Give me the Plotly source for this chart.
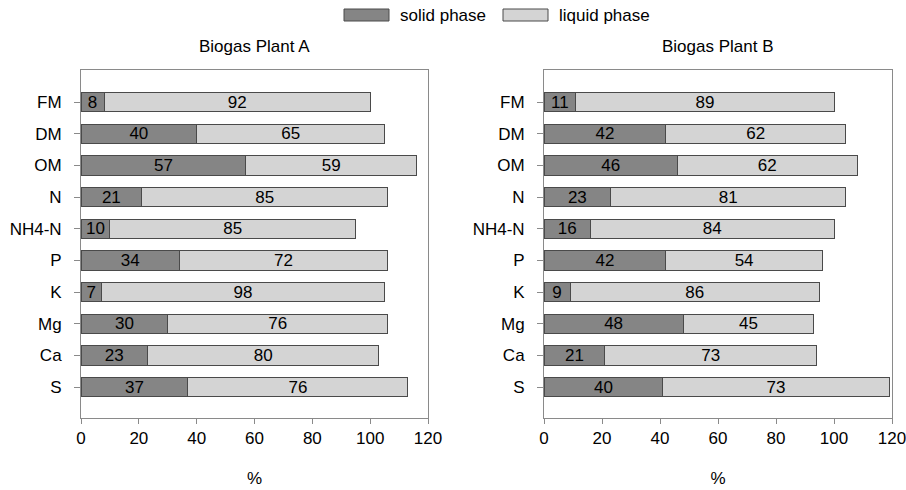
import plotly.graph_objects as go

categories = ["FM", "DM", "OM", "N", "NH4-N", "P", "K", "Mg", "Ca", "S"]

# Plant A: bar lengths and printed labels
a_solid = [8, 40, 57, 21, 10, 34, 7, 30, 23, 37]
a_liquid = [92, 65, 59, 85, 85, 72, 98, 76, 80, 76]
a_solid_labels = [8, 40, 57, 21, 10, 34, 7, 30, 23, 37]
a_liquid_labels = [92, 65, 59, 85, 85, 72, 98, 76, 80, 76]

# Plant B: bar lengths (as drawn) and printed labels
b_solid = [11, 42, 46, 23, 16, 42, 9, 48, 21, 41]
b_liquid = [89, 62, 62, 81, 84, 54, 86, 45, 73, 78]
b_solid_labels = [11, 42, 46, 23, 16, 42, 9, 48, 21, 40]
b_liquid_labels = [89, 62, 62, 81, 84, 54, 86, 45, 73, 73]

titles = ["Biogas Plant A", "Biogas Plant B"]
series_names = ["solid phase", "liquid phase"]
x_ticks = [0, 20, 40, 60, 80, 100, 120]

DARK = "#858585"
LIGHT = "#d4d4d4"
EDGE = "#4a4a4a"
AXIS = "#8a8a8a"
FONT = "Liberation Sans, Arial, sans-serif"
FS = 17

W, H = 906, 490
idx = list(range(len(categories)))

fig = go.Figure()

def add_plant(solid, liquid, slab, llab, xa, ya):
    for vals, labs, col, nm in [(solid, slab, DARK, series_names[0]),
                                (liquid, llab, LIGHT, series_names[1])]:
        fig.add_trace(go.Bar(
            y=idx, x=vals, orientation="h", name=nm,
            marker=dict(color=col, line=dict(color=EDGE, width=1)),
            text=[str(v) for v in labs], textposition="inside",
            insidetextanchor="middle", textangle=0,
            textfont=dict(color="black", size=FS, family=FONT),
            width=0.61, xaxis=xa, yaxis=ya, showlegend=False, cliponaxis=False,
            hoverinfo="skip",
        ))

add_plant(a_solid, a_liquid, a_solid_labels, a_liquid_labels, "x", "y")
add_plant(b_solid, b_liquid, b_solid_labels, b_liquid_labels, "x2", "y2")

dom_a = [81 / W, 428 / W]
dom_b = [544 / W, 892 / W]
dom_y = [1 - 418 / H, 1 - 70 / H]

def xaxis(domain, anchor):
    return dict(
        domain=domain, anchor=anchor, range=[0, 120], tickvals=x_ticks,
        automargin=False, ticklabeloverflow="allow",
        showgrid=False, zeroline=False, showline=True, linecolor=AXIS,
        linewidth=1, mirror=True, ticks="outside", ticklen=5, tickcolor=AXIS,
        tickfont=dict(size=FS, family=FONT, color="black"),
        title=dict(text="%", font=dict(size=FS, family=FONT, color="black"), standoff=24),
    )

def yaxis(anchor):
    return dict(
        domain=dom_y, anchor=anchor, range=[9.98, -1.02],
        tickvals=idx, ticktext=categories, automargin=False,
        ticklabeloverflow="allow", ticklabelstandoff=9,
        showgrid=False, zeroline=False, showline=True, linecolor=AXIS,
        linewidth=1, mirror=True, ticks="outside", ticklen=6, tickcolor=AXIS,
        tickfont=dict(size=FS, family=FONT, color="black"),
    )

annotations = []
for dom, t in zip([dom_a, dom_b], titles):
    annotations.append(dict(
        text=t, x=(dom[0] + dom[1]) / 2, y=1 - 46 / H, xref="paper", yref="paper",
        showarrow=False, xanchor="center", yanchor="middle",
        font=dict(size=FS, family=FONT, color="black"),
    ))

# legend drawn as swatches + labels
shapes = []
legend_items = [(344, 389, DARK, 398, series_names[0]), (503, 548, LIGHT, 557, series_names[1])]
for x0, x1, col, tx, name in legend_items:
    shapes.append(dict(type="rect", xref="paper", yref="paper",
                       x0=x0 / W, x1=x1 / W, y0=1 - 21 / H, y1=1 - 9 / H,
                       fillcolor=col, line=dict(color=EDGE, width=1)))
    annotations.append(dict(
        text=name, x=tx / W, y=1 - 15 / H, xref="paper", yref="paper",
        showarrow=False, xanchor="left", yanchor="middle",
        font=dict(size=FS, family=FONT, color="black"),
    ))

fig.update_layout(
    width=W, height=H, barmode="stack",
    margin=dict(l=0, r=0, t=0, b=0),
    paper_bgcolor="white", plot_bgcolor="white",
    xaxis=xaxis(dom_a, "y"), yaxis=yaxis("x"),
    xaxis2=xaxis(dom_b, "y2"), yaxis2=yaxis("x2"),
    annotations=annotations, shapes=shapes,
    uniformtext=dict(minsize=FS, mode="show"),
    showlegend=False, hovermode=False,
    font=dict(family=FONT, size=FS, color="black"),
)

fig.write_html(
    "out.html",
    config={"displayModeBar": False},
    post_script="document.body.style.margin='0';document.body.style.overflow='hidden';",
)
